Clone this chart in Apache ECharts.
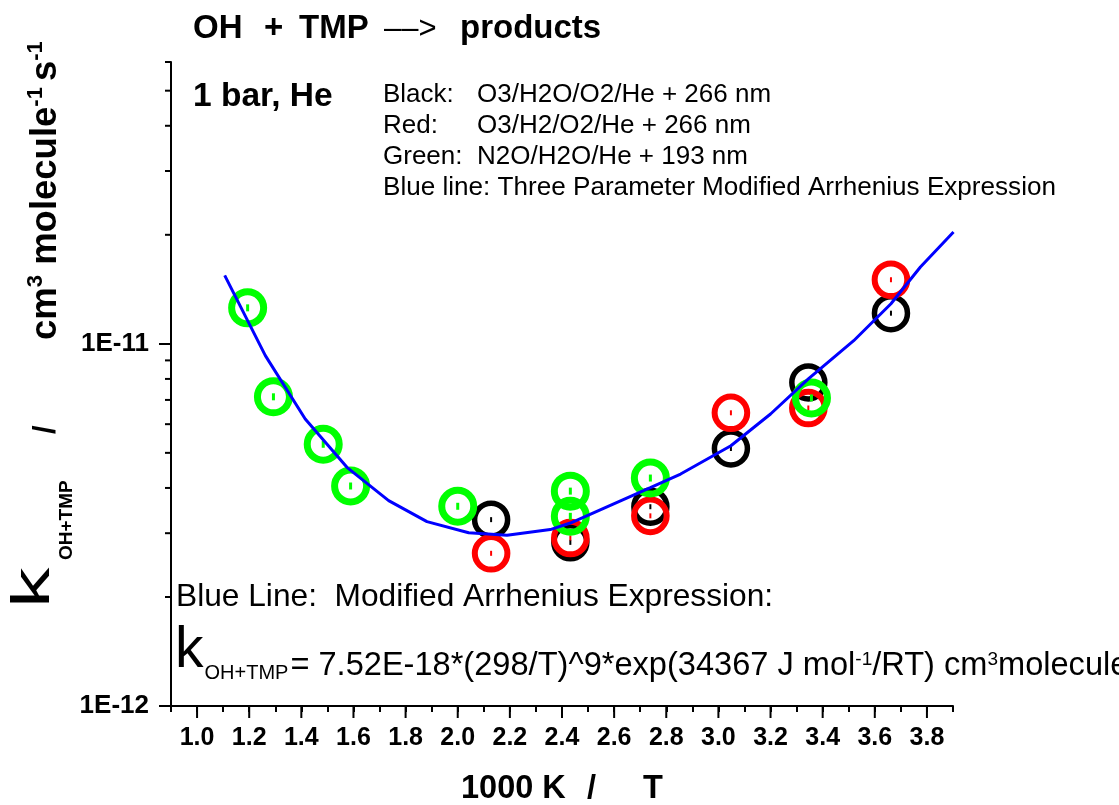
<!DOCTYPE html>
<html>
<head>
<meta charset="utf-8">
<script src="https://cdn.jsdelivr.net/npm/echarts@6/dist/echarts.min.js"></script>
<style>
  html, body { margin: 0; padding: 0; background: #ffffff; }
  #chart { width: 1119px; height: 805px; }
</style>
</head>
<body>
<div id="chart"></div>
<script>
// Rate coefficients of OH + TMP, plotted against 1000 K / T.
const xBlack = [2.128, 2.432, 2.739, 3.048, 3.345, 3.662];
const kBlack = [3.27e-12, 2.83e-12, 3.55e-12, 5.14e-12, 7.82e-12, 1.215e-11];

const xRed = [2.128, 2.432, 2.739, 3.048, 3.345, 3.662];
const kRed = [2.64e-12, 2.91e-12, 3.35e-12, 6.45e-12, 6.65e-12, 1.503e-11];

const xGreen = [1.194, 1.293, 1.484, 1.589, 2.000, 2.432, 2.432, 2.739, 3.357];
const kGreen = [1.257e-11, 7.14e-12, 5.28e-12, 4.05e-12, 3.56e-12, 3.92e-12, 3.34e-12, 4.26e-12, 7.09e-12];

// Modified Arrhenius fit curve
const xFit = [1.106, 1.262, 1.415, 1.575, 1.735, 1.882, 2.042, 2.189, 2.355, 2.432, 2.739, 2.855, 3.048, 3.200, 3.345, 3.519, 3.662, 3.775, 3.902];
const kFit = [1.545e-11, 9.28e-12, 6.20e-12, 4.56e-12, 3.69e-12, 3.23e-12, 3.01e-12, 2.96e-12, 3.07e-12, 3.20e-12, 4.01e-12, 4.37e-12, 5.23e-12, 6.40e-12, 8.00e-12, 1.02e-11, 1.29e-11, 1.63e-11, 2.035e-11];

// Axis ticks
const xMajorTicks = [1.0, 1.2, 1.4, 1.6, 1.8, 2.0, 2.2, 2.4, 2.6, 2.8, 3.0, 3.2, 3.4, 3.6, 3.8];
const yMinorTicks = [2e-12, 3e-12, 4e-12, 5e-12, 6e-12, 7e-12, 8e-12, 9e-12, 2e-11, 3e-11, 4e-11, 5e-11, 6e-11];

const FAM = '"Liberation Sans", Arial, sans-serif';
const X_MIN = 0.9, X_MAX = 3.9, Y_MIN = 1e-12, Y_MAX = 6e-11;

const zip = (xs, ys) => xs.map((x, i) => [x, ys[i]]);

const measureCtx = document.createElement('canvas').getContext('2d');
function textWidth(t, font) {
  measureCtx.font = font;
  return measureCtx.measureText(t).width;
}

// Lay out a run of text pieces one after another (optionally rotated to read upward).
// Each piece: t (text), size, weight, b (baseline shift; negative = raised), gap, sx (stretch).
function run(pieces, x0, base, rotated) {
  const els = [];
  let pos = 0;
  for (const p of pieces) {
    pos += p.gap || 0;
    const font = (p.weight || 'normal') + ' ' + p.size + 'px ' + FAM;
    const w = textWidth(p.t, font) * (p.sx || 1);
    const mid = (p.b || 0) - 0.3 * p.size;
    const style = { text: p.t, font: font, fill: '#000', align: 'left', verticalAlign: 'middle' };
    if (rotated) {
      els.push({ type: 'text', x: base + mid, y: x0 - pos, rotation: Math.PI / 2, scaleX: p.sx || 1, style: style, silent: true });
    } else {
      els.push({ type: 'text', x: x0 + pos, y: base + mid, scaleX: p.sx || 1, style: style, silent: true });
    }
    pos += w;
  }
  return els;
}

function plain(t, x, y, size, weight, align) {
  return {
    type: 'text', x: x, y: y, silent: true,
    style: { text: t, font: (weight || 'normal') + ' ' + size + 'px ' + FAM, fill: '#000', align: align || 'left', verticalAlign: 'middle' }
  };
}

const graphics = [].concat(
  [
    // title
    plain('OH', 193, 29, 33, 'bold'),
    plain('+', 264, 29, 33, 'bold'),
    plain('TMP', 299, 29, 33, 'bold'),
    plain('\u2013\u2013>', 384, 29, 31, 'normal'),
    plain('products', 460, 29, 33, 'bold'),
    // conditions and series key
    plain('1 bar, He', 193, 97, 33.5, 'bold'),
    plain('Black:', 383, 95, 26),
    plain('O3/H2O/O2/He + 266 nm', 477, 95, 26),
    plain('Red:', 383, 126, 26),
    plain('O3/H2/O2/He + 266 nm', 477, 126, 26),
    plain('Green:', 383, 157, 26),
    plain('N2O/H2O/He + 193 nm', 477, 157, 26),
    plain('Blue line: Three Parameter Modified Arrhenius Expression', 383, 188, 26.1),
    plain('Blue Line:  Modified Arrhenius Expression:', 176, 597, 31.7),
    // x axis title
    plain('1000 K', 461, 789, 32.5, 'bold'),
    plain('/', 587, 789, 32.5, 'bold'),
    plain('T', 643, 789, 32.5, 'bold')
  ],
  // fit expression
  run([
    { t: 'k', size: 57, b: -8 },
    { t: 'OH+TMP', size: 20, b: 3, gap: 1 },
    { t: '= 7.52E-18*(298/T)^9*exp(34367 J mol', size: 32.6, gap: 2 },
    { t: '-1', size: 19, b: -11 },
    { t: '/RT) cm', size: 32.6 },
    { t: '3', size: 19, b: -11 },
    { t: 'molecule', size: 32.6 },
    { t: '-1', size: 19, b: -11 },
    { t: ' s', size: 32.6 },
    { t: '-1', size: 19, b: -11 }
  ], 175, 676, false),
  // y axis title (reads bottom to top)
  run([{ t: 'k', size: 54, b: 0, sx: 1.5 }], 608, 50, true),
  run([{ t: 'OH+TMP', size: 19, weight: 'bold' }], 560, 72, true),
  run([{ t: '/', size: 31, weight: 'bold' }], 434, 56, true),
  run([
    { t: 'cm', size: 36.5, weight: 'bold' },
    { t: '3', size: 22, weight: 'bold', b: -14 },
    { t: ' molecule', size: 36.5, weight: 'bold' },
    { t: '-1', size: 22, weight: 'bold', b: -14 },
    { t: 's', size: 36.5, weight: 'bold', gap: 6 },
    { t: '-1', size: 22, weight: 'bold', b: -14 }
  ], 340, 57, true)
);

function ringSeries(name, xs, ks, color, lw, r, tw, th) {
  return {
    name: name,
    type: 'custom',
    coordinateSystem: 'cartesian2d',
    data: zip(xs, ks),
    encode: { x: 0, y: 1 },
    renderItem: function (params, api) {
      const p = api.coord([api.value(0), api.value(1)]);
      return {
        type: 'group',
        children: [
          { type: 'circle', shape: { cx: p[0], cy: p[1], r: r }, style: { fill: 'none', stroke: color, lineWidth: lw } },
          { type: 'rect', shape: { x: p[0] - tw / 2, y: p[1] - th / 2, width: tw, height: th }, style: { fill: color } }
        ]
      };
    },
    z: 3
  };
}

const chart = echarts.init(document.getElementById('chart'), null, { renderer: 'canvas' });

chart.setOption({
  animation: false,
  backgroundColor: '#ffffff',
  grid: { left: 171, right: 166, top: 62, bottom: 99, containLabel: false },
  xAxis: {
    type: 'value',
    min: X_MIN,
    max: X_MAX,
    interval: 0.1,
    axisLine: { show: true, onZero: false, lineStyle: { color: '#000', width: 2 } },
    axisTick: { show: true, length: 6, lineStyle: { color: '#000', width: 2 } },
    axisLabel: {
      margin: 20,
      color: '#000',
      fontFamily: FAM,
      fontWeight: 'bold',
      fontSize: 25,
      showMinLabel: true,
      showMaxLabel: true,
      formatter: function (v) {
        const t = Math.round(v * 10);
        return t % 2 === 0 ? (t / 10).toFixed(1) : '';
      }
    },
    splitLine: { show: false }
  },
  yAxis: {
    type: 'log',
    logBase: 10,
    min: Y_MIN,
    max: Y_MAX,
    axisLine: { show: true, lineStyle: { color: '#000', width: 2 } },
    axisTick: { show: true, length: 12, lineStyle: { color: '#000', width: 2 } },
    axisLabel: {
      margin: 22,
      color: '#000',
      fontFamily: FAM,
      fontWeight: 'bold',
      fontSize: 26,
      showMaxLabel: false,
      formatter: function (v) {
        const e = Math.log10(v);
        if (Math.abs(e - Math.round(e)) > 1e-6) return '';
        return '1E' + Math.round(e);
      }
    },
    splitLine: { show: false }
  },
  graphic: graphics,
  series: [
    // minor ticks on the log axis
    {
      type: 'custom',
      coordinateSystem: 'cartesian2d',
      data: yMinorTicks.map(v => [X_MIN, v]),
      encode: { x: 0, y: 1 },
      silent: true,
      renderItem: function (params, api) {
        const p = api.coord([api.value(0), api.value(1)]);
        return { type: 'line', shape: { x1: p[0] - 6, y1: p[1], x2: p[0], y2: p[1] }, style: { stroke: '#000', lineWidth: 2 } };
      },
      z: 1
    },
    // long ticks at the labelled x values
    {
      type: 'custom',
      coordinateSystem: 'cartesian2d',
      data: xMajorTicks.map(v => [v, Y_MIN]),
      encode: { x: 0, y: 1 },
      silent: true,
      renderItem: function (params, api) {
        const p = api.coord([api.value(0), api.value(1)]);
        return { type: 'line', shape: { x1: p[0], y1: p[1], x2: p[0], y2: p[1] + 12 }, style: { stroke: '#000', lineWidth: 2 } };
      },
      z: 1
    },
    ringSeries('O3/H2O/O2/He + 266 nm', xBlack, kBlack, '#000000', 5.5, 16.5, 2, 5),
    ringSeries('O3/H2/O2/He + 266 nm', xRed, kRed, '#ff0000', 6, 16.3, 2, 5),
    ringSeries('N2O/H2O/He + 193 nm', xGreen, kGreen, '#00ff00', 7, 16, 3, 7),
    {
      name: 'Modified Arrhenius fit',
      type: 'line',
      data: zip(xFit, kFit),
      showSymbol: false,
      symbol: 'none',
      smooth: false,
      lineStyle: { color: '#0000ff', width: 3 },
      z: 4
    }
  ]
});
</script>
</body>
</html>
